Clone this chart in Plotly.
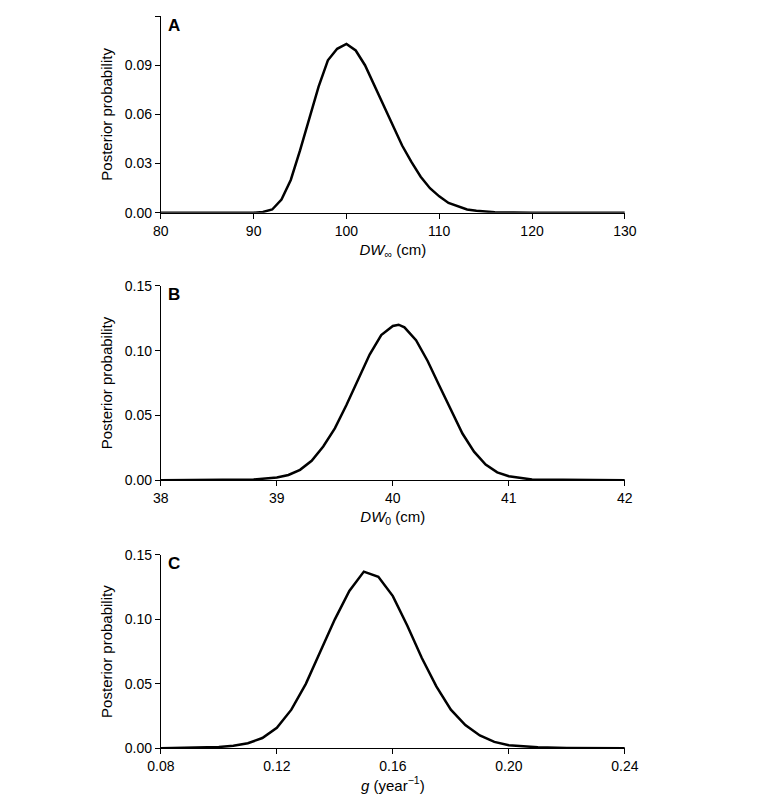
import plotly.graph_objects as go

# Panel A: DW_inf (cm)
dwinf_x = [80, 90, 91, 92, 93, 94, 95, 96, 97, 98, 99, 100, 101, 102, 103, 104, 105, 106, 107,
           108, 109, 110, 111, 112, 113, 114, 115, 116, 118, 120, 130]
dwinf_p = [0, 0, 0.0005, 0.002, 0.008, 0.02, 0.038, 0.058, 0.077, 0.093, 0.1, 0.103, 0.099, 0.09,
           0.078, 0.066, 0.053, 0.041, 0.031, 0.022, 0.015, 0.01, 0.006, 0.004, 0.002, 0.0012,
           0.0006, 0.0003, 0.0001, 0, 0]

# Panel B: DW_0 (cm)
dw0_x = [38, 38.8, 39.0, 39.1, 39.2, 39.3, 39.4, 39.5, 39.6, 39.7, 39.8, 39.9, 40.0, 40.05, 40.1,
         40.2, 40.3, 40.4, 40.5, 40.6, 40.7, 40.8, 40.9, 41.0, 41.2, 42]
dw0_p = [0, 0.0005, 0.002, 0.004, 0.008, 0.015, 0.026, 0.040, 0.058, 0.077, 0.097, 0.112, 0.119,
         0.12, 0.118, 0.108, 0.092, 0.073, 0.054, 0.036, 0.022, 0.012, 0.006, 0.003, 0.0005, 0]

# Panel C: g (year^-1)
g_x = [0.08, 0.10, 0.105, 0.11, 0.115, 0.12, 0.125, 0.13, 0.135, 0.14, 0.145, 0.15, 0.155, 0.16,
       0.165, 0.17, 0.175, 0.18, 0.185, 0.19, 0.195, 0.20, 0.21, 0.22, 0.24]
g_p = [0, 0.001, 0.002, 0.004, 0.008, 0.016, 0.03, 0.05, 0.075, 0.1, 0.122, 0.137, 0.133, 0.118,
       0.095, 0.07, 0.048, 0.03, 0.018, 0.01, 0.005, 0.0025, 0.0008, 0.0002, 0]

panels = [
    ("A", dwinf_x, dwinf_p, [80, 130], [80, 90, 100, 110, 120, 130], None,
     [0, 0.12], [0, 0.03, 0.06, 0.09, 0.12], ".2f", "<i>DW</i><sub>∞</sub> (cm)", [0.745, 0.990]),
    ("B", dw0_x, dw0_p, [38, 42], [38, 39, 40, 41, 42], None,
     [0, 0.15], [0, 0.05, 0.10, 0.15], ".2f", "<i>DW</i><sub>0</sub> (cm)", [0.412, 0.654]),
    ("C", g_x, g_p, [0.08, 0.24], [0.08, 0.12, 0.16, 0.20, 0.24], ".2f",
     [0, 0.15], [0, 0.05, 0.10, 0.15], ".2f", "<i>g</i> (year<sup>−1</sup>)", [0.078, 0.319]),
]

fig = go.Figure()
layout = {}
for i, (lab, xs, ys, xr, xt, xf, yr, yt, yf, xtitle, ydom) in enumerate(panels):
    n = "" if i == 0 else str(i + 1)
    fig.add_trace(go.Scatter(x=xs, y=ys, mode="lines", line=dict(color="black", width=2.5),
                             xaxis="x" + n, yaxis="y" + n, showlegend=False))
    common = dict(showline=True, linecolor="black", linewidth=1.2, ticks="outside",
                  ticklen=5, tickcolor="black", showgrid=False, zeroline=False,
                  automargin=False, tickfont=dict(size=14, color="black"))
    layout["xaxis" + n] = dict(common, domain=[0.198, 0.799], range=xr, tickvals=xt,
                               tickformat=xf, anchor="y" + n,
                               title=dict(text=xtitle, font=dict(size=15), standoff=6))
    layout["yaxis" + n] = dict(common, domain=ydom, range=yr, tickvals=yt, tickformat=yf,
                               anchor="x" + n,
                               title=dict(text="Posterior probability", font=dict(size=15), standoff=8))
    fig.add_annotation(text="<b>%s</b>" % lab, xref="paper", yref="paper", x=0.205, y=ydom[1] + 0.003,
                       xanchor="left", yanchor="top", showarrow=False,
                       font=dict(size=17, color="black"))

fig.update_layout(**layout)
fig.update_layout(width=772, height=803, margin=dict(l=0, r=0, t=0, b=0),
                  paper_bgcolor="white", plot_bgcolor="white",
                  font=dict(family="Liberation Sans, Arial", color="black"))
fig.write_html("out.html")
